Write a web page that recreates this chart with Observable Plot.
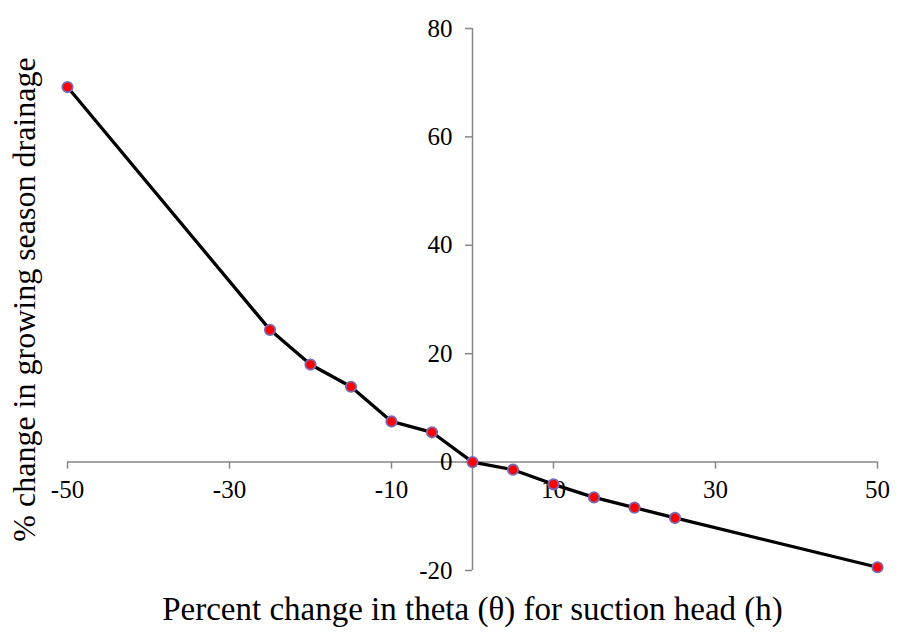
<!DOCTYPE html>
<html>
<head>
<meta charset="utf-8">
<script src="https://cdn.jsdelivr.net/npm/d3@7"></script>
<script src="https://cdn.jsdelivr.net/npm/@observablehq/plot@0.6"></script>
<style>
  html, body { margin: 0; padding: 0; background: #fff; }
  #chart svg { display: block; }
  #chart svg text { font-family: "Liberation Serif", "Times New Roman", "DejaVu Serif", serif !important; }
</style>
</head>
<body>
<div id="chart"></div>
<script>
const percentChange = [-50, -25, -20, -15, -10, -5, 0, 5, 10, 15, 20, 25, 50];
const drainageChange = [69.2, 24.4, 18.0, 13.9, 7.5, 5.5, 0, -1.4, -4.1, -6.5, -8.4, -10.3, -19.4];
const xTicks = [-50, -30, -10, 10, 30, 50];
const yTicks = [-20, 0, 20, 40, 60, 80];
const xLabel = "Percent change in theta (\u03b8) for suction head (h)";
const yLabel = "% change in growing season drainage";

const data = percentChange.map((x, i) => ({x, y: drainageChange[i]}));
const font = "Liberation Serif, Times New Roman, serif";
const axisColor = "#868686";

const chart = Plot.plot({
  width: 898,
  height: 635,
  marginLeft: 67,
  marginRight: 21,
  marginTop: 28,
  marginBottom: 65,
  style: {fontFamily: font, background: "#fff"},
  x: {domain: [-50, 50], axis: null},
  y: {domain: [-20, 80], axis: null},
  marks: [
    Plot.ruleY([0], {stroke: axisColor, strokeWidth: 1.5}),
    Plot.ruleX([0], {stroke: axisColor, strokeWidth: 1.5}),
    Plot.ruleX(xTicks, {x: d => d, y1: 0, y2: 0, insetTop: 0, insetBottom: -7, stroke: axisColor, strokeWidth: 1.5}),
    Plot.ruleY(yTicks, {y: d => d, x1: 0, x2: 0, insetLeft: -7, insetRight: 0, stroke: axisColor, strokeWidth: 1.5}),
    Plot.text(xTicks, {x: d => d, y: 0, text: d => String(d), dy: 28, fontSize: 25, fontFamily: font, fill: "#000", lineAnchor: "middle"}),
    Plot.text(yTicks, {x: 0, y: d => d, text: d => String(d), dx: -20, textAnchor: "end", fontSize: 25, fontFamily: font, fill: "#000", lineAnchor: "middle"}),
    Plot.line(data, {x: "x", y: "y", stroke: "#000", strokeWidth: 3.3}),
    Plot.dot(data, {x: "x", y: "y", r: 5.2, fill: "#ff0000", stroke: "#7b68b0", strokeWidth: 1.8}),
    Plot.text([xLabel], {frameAnchor: "bottom", dy: 39, fontSize: 33, fontFamily: font, fill: "#000", lineAnchor: "middle"}),
    Plot.text([yLabel], {frameAnchor: "left", dx: -43, rotate: -90, textAnchor: "middle", fontSize: 32, fontFamily: font, fill: "#000", lineAnchor: "middle"})
  ]
});
document.getElementById("chart").appendChild(chart);
</script>
</body>
</html>
